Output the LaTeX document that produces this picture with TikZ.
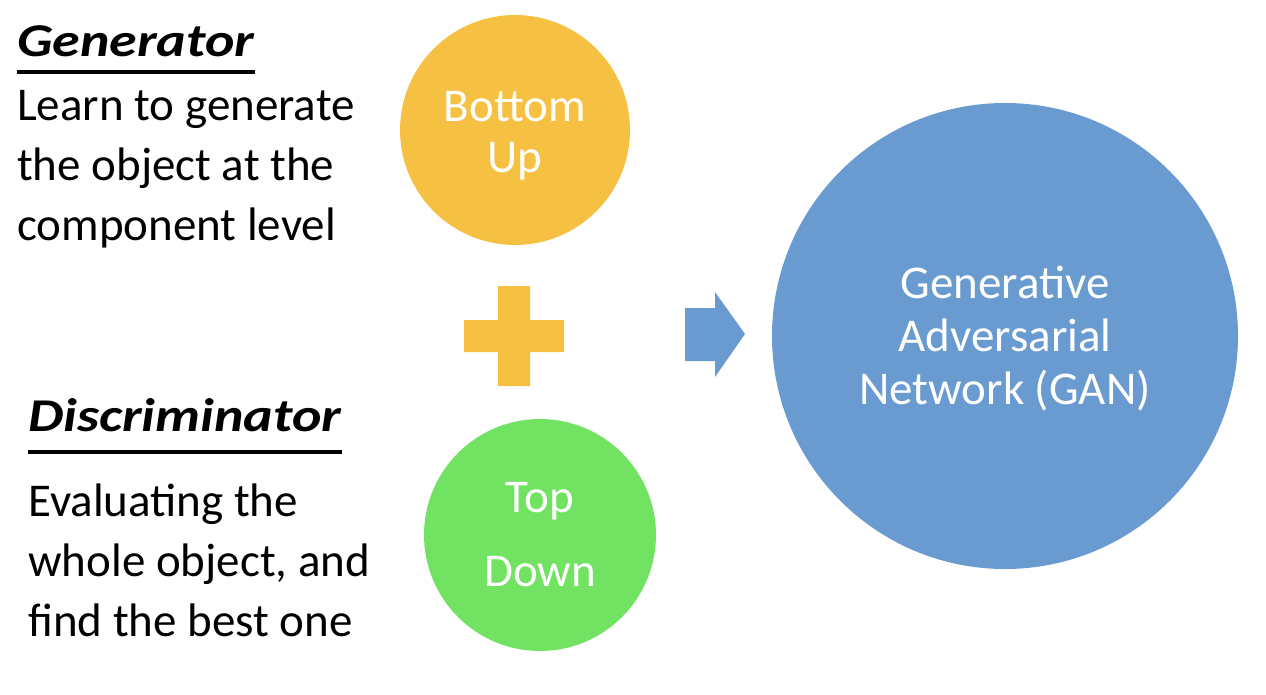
\documentclass[tikz,border=0pt]{standalone}
\usepackage{fontspec}
\setmainfont{Carlito}
\definecolor{genorange}{RGB}{246,193,67}
\definecolor{discgreen}{RGB}{114,226,99}
\definecolor{ganblue}{RGB}{105,155,208}
\newcommand{\widetitle}[1]{\scalebox{1.19}[1]{#1}}
\begin{document}
\begin{tikzpicture}[x=1pt,y=-1pt,
  title/.style={anchor=base west,inner sep=0pt,font=\fontsize{47}{54}\selectfont\bfseries\itshape},
  body/.style={anchor=base west,inner sep=0pt,align=left,font=\fontsize{47}{60}\selectfont},
  ball/.style={circle,inner sep=0pt},
  balltext/.style={inner sep=0pt,text=white,align=center},
  rule/.style={line width=3.5pt}]
\useasboundingbox (0,0) rectangle (1266,694);

% left column: generator (multi-line nodes sit on their last baseline)
\node[title] (gen) at (17,56) {\widetitle{Generator}};
\draw[rule] ([yshift=-16pt]gen.base west) -- ([yshift=-16pt]gen.base east);
\node[body] (gentext) at (17,240) {Learn to generate\\the object at the\\component level};

% left column: discriminator
\node[title] (disc) at (28,431) {\widetitle{Discriminator}};
\draw[rule] ([yshift=-21pt]disc.base west) -- ([yshift=-21pt]disc.base east);
\node[body] (disctext) at (28,636) {Evaluating the\\whole object, and\\find the best one};

% the two approaches
\node[ball,fill=genorange,minimum size=230pt] (bu) at (515,130) {};
\node[balltext,font=\fontsize{47}{51}\selectfont] (butext) at ([yshift=-6pt]bu.center) {Bottom\\Up};
\node[ball,fill=discgreen,minimum size=232pt] (td) at (540,535) {};
\node[balltext,font=\fontsize{47}{74}\selectfont] (tdtext) at (td.center) {Top\\Down};

% result
\node[ball,fill=ganblue,minimum size=466pt] (gan) at (1005,336) {};
\node[balltext,font=\fontsize{47}{53}\selectfont] (gantext) at ([yshift=-3pt]gan.center) {Generative\\Adversarial\\Network (GAN)};

% plus sign
\fill[genorange] (498,286) -- (530,286) -- (530,320) -- (564,320) -- (564,352)
  -- (530,352) -- (530,386) -- (498,386) -- (498,352) -- (464,352)
  -- (464,320) -- (498,320) -- cycle;

% block arrow
\fill[ganblue] (685,308) -- (715,308) -- (715,292) -- (745,334) -- (715,377)
  -- (715,361) -- (685,361) -- cycle;
\end{tikzpicture}
\end{document}
